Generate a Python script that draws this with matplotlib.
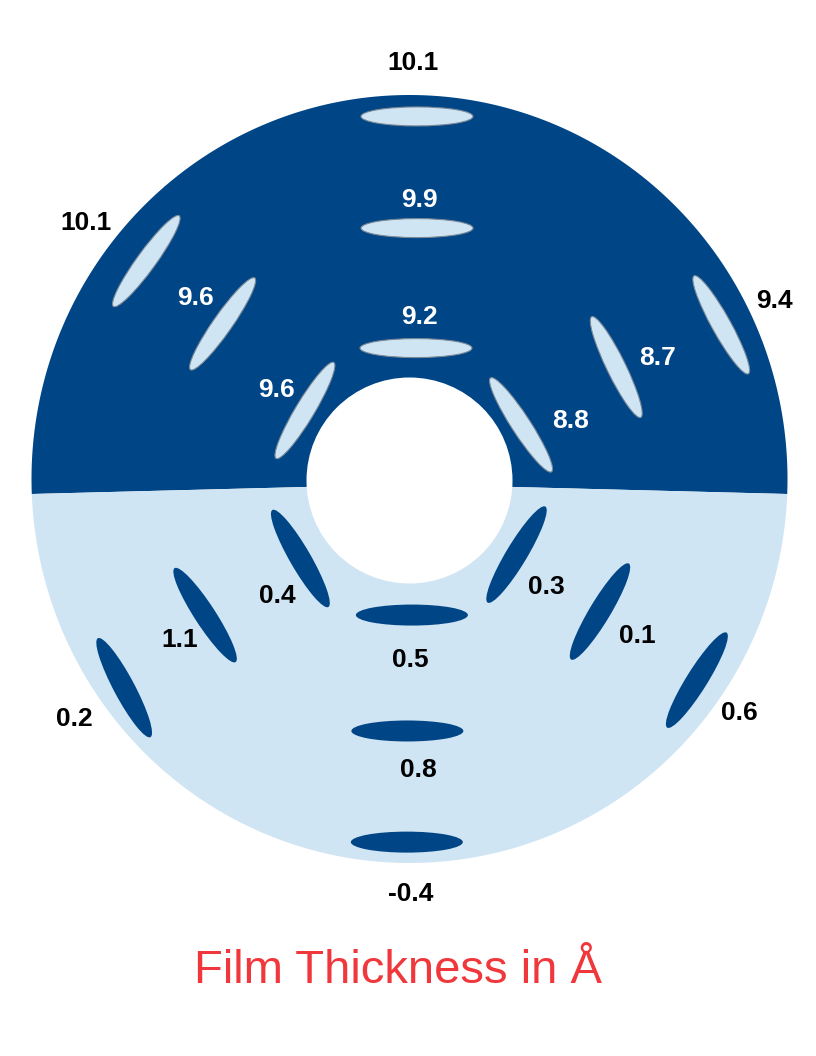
import numpy as np
import matplotlib.pyplot as plt
from matplotlib.patches import Ellipse, Polygon, Circle

# film thickness per measurement site (Angstrom)
thickness = [10.1, 9.9, 9.2,
             10.1, 9.6, 9.6,
             9.4, 8.7, 8.8,
             0.2, 1.1, 0.4,
             0.6, 0.1, 0.3,
             -0.4, 0.8, 0.5]
# site location on the wafer: radius (mm) and angle (deg)
site_r = [144.3, 100.0, 52.4,
          136.0, 96.8, 50.0,
          138.0, 93.3, 49.2,
          140.2, 97.4, 53.5,
          138.8, 91.7, 51.6,
          143.7, 99.6, 53.6]
site_theta = [88.9, 88.4, 87.4,
              140.3, 140.2, 146.5,
              26.5, 28.7, 26.4,
              216.0, 213.4, 215.6,
              325.1, 325.3, 325.0,
              269.5, 269.4, 270.8]

# tilt of each site mark (deg, counter-clockwise on screen)
mark_tilt = [0, 0, 0,
             54, 55, 59,
             119, 116, 123,
             118, 123, 120,
             58, 59, 59,
             0, 0, 0]
# label offsets from the site mark (px, +y is down)
label_off = [(-4, -56), (2, -31), (3, -34),
             (-60, -41), (-27, -29), (-28, -23),
             (53, -27), (41, -12), (50, -7),
             (-50, 28), (-25, 22), (-23, 35),
             (43, 30), (37, 21), (30, 29),
             (4, 49), (11, 36), (-2, 42)]

dark = '#004586'
light = '#D0E5F4'

cx, cy = 410, 480          # wafer centre in px
rx, ry = 378, 384          # outer edge
hole_r = 103
px_mm = 2.52

fig = plt.figure(figsize=(8.16, 10.56), dpi=100)
ax = fig.add_axes([0, 0, 1, 1])
ax.set_xlim(0, 816)
ax.set_ylim(1056, 0)
ax.axis('off')

# two halves, split line slightly tilted
t_split = np.degrees(np.arcsin((494 - 479) / ry))
vertex = (410, 484.3)
t1 = np.radians(np.linspace(-t_split, 180 + t_split, 300))
t2 = np.radians(np.linspace(180 + t_split, 360 - t_split, 300))
top = np.column_stack([409.5 + rx * np.cos(t1), 479 - ry * np.sin(t1)])
bot = np.column_stack([409.5 + rx * np.cos(t2), 479 - ry * np.sin(t2)])
ax.add_patch(Polygon(np.vstack([top, vertex]), closed=True, fc=dark, ec='none'))
ax.add_patch(Polygon(np.vstack([bot, vertex]), closed=True, fc=light, ec='none'))
ax.add_patch(Circle((409.5, 480.5), hole_r, fc='white', ec='none'))

for v, r, th, tilt, (dx, dy) in zip(thickness, site_r, site_theta, mark_tilt, label_off):
    t = np.radians(th)
    x = cx + r * px_mm * np.cos(t)
    y = cy - r * px_mm * np.sin(t)
    upper = np.sin(t) > 0
    if upper:
        ax.add_patch(Ellipse((x, y), 112, 19, angle=-tilt,
                             fc=light, ec='#7a8896', lw=0.8))
    else:
        ax.add_patch(Ellipse((x, y), 112, 21, angle=-tilt,
                             fc=dark, ec='none'))
    lx, ly = x + dx, y + dy
    inside = ((lx - 409.5) / rx) ** 2 + ((ly - 479) / ry) ** 2 < 1
    col = 'white' if (upper and inside) else 'black'
    ax.text(lx, ly + 10, f'{v:.1f}', ha='center', va='baseline', color=col,
            fontsize=19, fontweight='bold', family='Liberation Sans')

ax.text(398.5, 983, 'Film Thickness in Å', ha='center', va='baseline',
        color='#F0383C', fontsize=34, family='Liberation Sans')

fig.savefig('out.png', dpi=100)
